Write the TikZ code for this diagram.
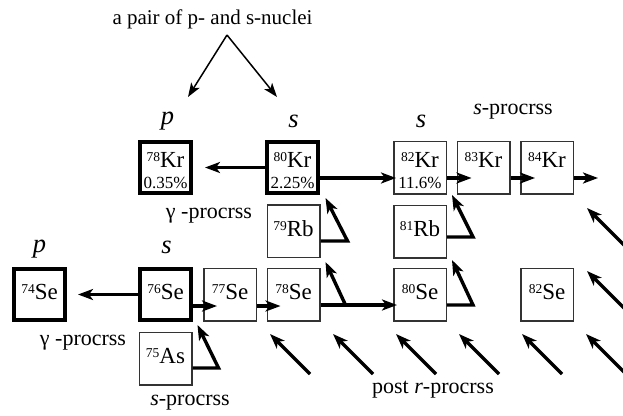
\documentclass[tikz,border=0pt]{standalone}
\usepackage{fontspec}
\setmainfont{Liberation Serif}
\usetikzlibrary{arrows.meta,calc}
\newcommand\nuc[2]{\raisebox{6pt}{\fontsize{13.5}{14}\selectfont #1}#2}
\newcommand\pct[1]{{\fontsize{17}{17}\selectfont #1}}
\begin{document}
\begin{tikzpicture}[x=1pt,y=-1pt,
  nbox/.style={draw=black!80, line width=1.5pt, minimum size=52.5pt, inner sep=0pt, text depth=5pt, font=\fontsize{23}{24}\selectfont},
  thickbox/.style={draw=black, line width=4pt, minimum size=51pt},
  krbox/.style={draw=black!80, line width=1.5pt, minimum size=52.5pt, inner sep=0pt, align=center, font=\fontsize{23}{21}\selectfont},
  arr/.style={line width=3.4pt, -{Stealth[length=15pt,width=11pt,inset=4pt]}},
  thinarr/.style={line width=1.5pt, -{Stealth[length=14pt,width=10pt,inset=3.5pt]}},
  lab/.style={font=\fontsize{22}{24}\selectfont, inner sep=0pt, anchor=base},
  big/.style={font=\fontsize{26.5}{28}\selectfont\itshape, inner sep=0pt, anchor=base}
]
\clip (0,0) rectangle (623,415);
% Kr row
\node[krbox, thickbox] (k78) at (165.5,167.5) {\rule{0pt}{22pt}\nuc{78}{Kr}\\\pct{0.35\%}};
\node[krbox, thickbox] (k80) at (292.5,167.5) {\rule{0pt}{22pt}\nuc{80}{Kr}\\\pct{2.25\%}};
\node[krbox] (k82) at (420,167.5) {\rule{0pt}{22pt}\nuc{82}{Kr}\\\pct{11.6\%}};
\node[krbox] (k83) at (483.5,167.5) {\rule{0pt}{22pt}\nuc{83}{Kr}\\\pct{\phantom{0}}};
\node[krbox] (k84) at (547,167.5) {\rule{0pt}{22pt}\nuc{84}{Kr}\\\pct{\phantom{0}}};
% Rb row
\node[nbox] (rb79) at (293.5,231) {\nuc{79}{Rb}};
\node[nbox] (rb81) at (420,231.5) {\nuc{81}{Rb}};
% Se row
\node[nbox, thickbox] (se74) at (39.5,294.5) {\nuc{74}{Se}};
\node[nbox, thickbox] (se76) at (165.5,294.5) {\nuc{76}{Se}};
\node[nbox] (se77) at (230,294.5) {\nuc{77}{Se}};
\node[nbox] (se78) at (293.5,294.5) {\nuc{78}{Se}};
\node[nbox] (se80) at (420,294.5) {\nuc{80}{Se}};
\node[nbox] (se82) at (547,294.5) {\nuc{82}{Se}};
% As
\node[nbox] (as75) at (165.5,358.5) {\nuc{75}{As}};
% labels
\node[lab, font=\fontsize{21}{22}\selectfont] (pair) at (212.5,24) {a pair of p- and s-nuclei};
\node[big] (p1) at (167.5,124) {p};
\node[big] (s1) at (293.5,127) {s};
\node[big] (s2) at (421,127) {s};
\node[big] (p2) at (39.5,252) {p};
\node[big] (s3) at (166.5,253) {s};
\node[lab] (sproc1) at (513,114) {\textit{s}-procrss};
\node[lab] (gproc1) at (209,218) {γ -procrss};
\node[lab] (gproc2) at (83,345) {γ -procrss};
\node[lab] (sproc2) at (190,405) {\textit{s}-procrss};
\node[lab] (rproc) at (433,393) {post \textit{r}-procrss};
% pair arrows
\coordinate (apex) at (227,35);
\coordinate (pt) at (188,97);
\coordinate (st) at (277,97);
\draw[thinarr] (apex) -- (pt);
\draw[thinarr] (apex) -- (st);
% Kr arrows
\draw[arr] (k80.west) -- ([xshift=12pt]k78.east);
\draw[arr] ([yshift=-10.5pt]k80.east) -- ([xshift=3pt,yshift=-10.5pt]k82.west);
\draw[arr] ([yshift=-10.5pt]k82.east) -- ([xshift=15pt,yshift=-10.5pt]k83.west);
\draw[arr] ([yshift=-10.5pt]k83.east) -- ([xshift=15pt,yshift=-10.5pt]k84.west);
\coordinate (kout) at (598,178);
\draw[arr] ([yshift=-10.5pt]k84.east) -- (kout);
% Se arrows
\draw[arr] (se76.west) -- ([xshift=11pt]se74.east);
\draw[arr] ([yshift=-11.5pt]se76.east) -- ([xshift=14pt,yshift=-11.5pt]se77.west);
\draw[arr] ([yshift=-11.5pt]se77.east) -- ([xshift=14pt,yshift=-11.5pt]se78.west);
\draw[arr] ([yshift=-10.5pt]se78.east) -- ([xshift=4pt,yshift=-10.5pt]se80.west);
\coordinate (br) at ($(se78.east)+(25,10.5)$);
\draw[arr] (br) -- ++(-20,-43);
% decay arrows
\draw[arr] ([yshift=-10pt]rb79.east) -- ++(27,0) -- ++(-22,-43);
\draw[arr] ([yshift=-5.5pt]rb81.east) -- ++(26,0) -- ++(-21,-42);
\draw[arr] ([yshift=-10.5pt]se80.east) -- ++(26,0) -- ++(-21,-45);
\draw[arr] ([yshift=-9.5pt]as75.east) -- ++(26,0) -- ++(-21,-43);
% r-process arrows
\foreach \x [count=\i] in {270,333,396,459,522,586} {
  \coordinate (rt\i) at (\x,334);
  \draw[arr] ($(rt\i)+(40,40)$) -- (rt\i);
}
\coordinate (ra) at (587,208);
\coordinate (rb) at (587,271);
\draw[arr] ($(ra)+(40,40)$) -- (ra);
\draw[arr] ($(rb)+(40,40)$) -- (rb);
\end{tikzpicture}
\end{document}
